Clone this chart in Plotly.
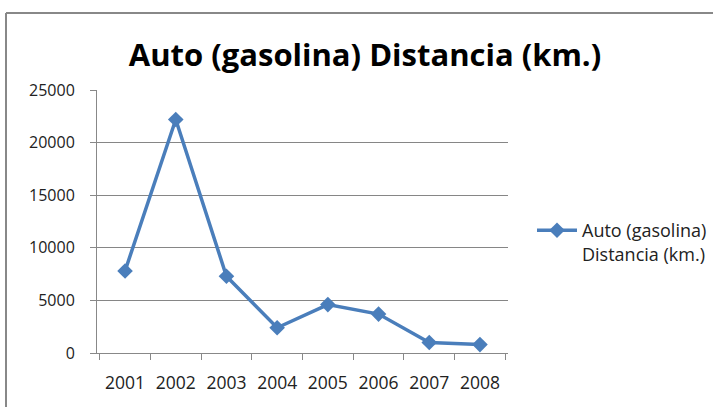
import plotly.graph_objects as go

years = ["2001", "2002", "2003", "2004", "2005", "2006", "2007", "2008"]
distance_km = [7800, 22200, 7300, 2400, 4600, 3700, 1000, 800]
y_ticks = [0, 5000, 10000, 15000, 20000, 25000]
y_tick_text = ["0", "5000", "10000", "15000", "20000", "25000"]
series_name = "Auto (gasolina)<br>Distancia (km.)"
title_text = "Auto (gasolina) Distancia (km.)"

W, H = 713, 407
L, R, T, B = 97, 205, 90, 54
pw, ph = W - L - R, H - T - B

fig = go.Figure()
fig.add_trace(go.Scatter(
    x=years, y=distance_km, mode="lines+markers", name=series_name,
    line=dict(color="#4A7EBB", width=3.5),
    marker=dict(symbol="diamond", size=12, color="#4A7EBB"),
))

FONT = "'Open Sans', sans-serif"
fig.update_layout(
    width=W, height=H,
    margin=dict(l=L, r=R, t=T, b=B, autoexpand=False),
    paper_bgcolor="white", plot_bgcolor="white",
    font=dict(family=FONT, size=16, color="#222222"),
    title=dict(text=f"<b>{title_text}</b>", x=365 / W, xanchor="center",
               y=1 - 55 / H, yanchor="middle", xref="container",
               font=dict(family=FONT, size=31, color="#000000")),
    showlegend=True,
    legend=dict(x=(532 - L) / pw, xanchor="left", y=(H - B - 212) / ph, yanchor="top",
                font=dict(family=FONT, size=18, color="#222222"),
                bgcolor="rgba(0,0,0,0)", itemwidth=40, valign="top"),
    xaxis=dict(type="category", tickson="boundaries", ticks="outside", ticklen=6,
               tickcolor="#888888", showline=True, linecolor="#888888", linewidth=1,
               showgrid=False, ticklabelstandoff=14, tickfont=dict(size=17.5)),
    yaxis=dict(range=[0, 25000], tickvals=y_ticks, ticktext=y_tick_text,
               ticks="outside", ticklen=6,
               tickcolor="#888888", showline=True, linecolor="#888888", linewidth=1,
               showgrid=True, gridcolor="#868686", gridwidth=1, zeroline=False,
               ticklabelstandoff=12, tickfont=dict(size=16)),
)

# outer chart border (only top and left edges visible in the crop)
x_left = (6 - L) / pw
y_top = (H - B - 13) / ph
fig.add_shape(type="line", xref="paper", yref="paper", x0=x_left, x1=(W + 10 - L) / pw,
              y0=y_top, y1=y_top, line=dict(color="#888888", width=2))
fig.add_shape(type="line", xref="paper", yref="paper", x0=x_left, x1=x_left,
              y0=y_top, y1=(H - B - H - 10) / ph, line=dict(color="#888888", width=2))

fig.write_html("out.html", config={"displayModeBar": False},
               post_script="document.body.style.margin='0px';document.body.style.overflow='hidden';")
